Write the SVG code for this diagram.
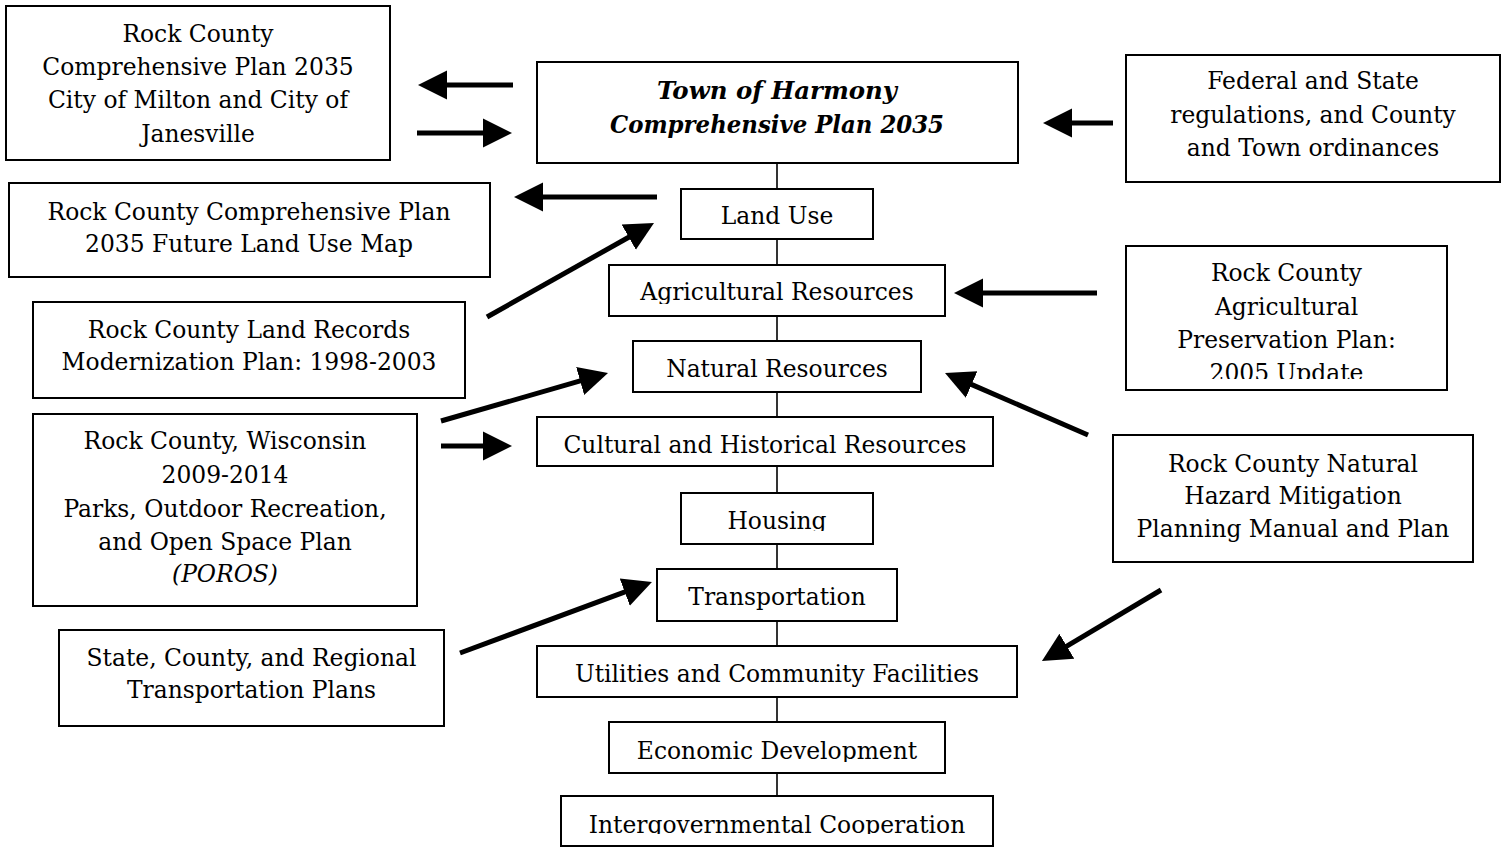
<svg xmlns="http://www.w3.org/2000/svg" width="1504" height="848" viewBox="0 0 1504 848">
<style>
  .box { fill: #fff; stroke: #000; stroke-width: 2; }
  .t { font-family: "DejaVu Serif", serif; font-size: 23.4px; fill: #000; text-anchor: middle; }
  .title { font-family: "DejaVu Serif", serif; font-size: 23.4px; font-weight: bold; font-style: italic; fill: #000; text-anchor: middle; }
  .it { font-style: italic; }
  .conn { stroke: #000; stroke-width: 1.6; fill: none; }
  .arr { stroke: #000; stroke-width: 5; fill: none; marker-end: url(#head); }
</style>
<defs>
  <marker id="head" markerUnits="userSpaceOnUse" markerWidth="34" markerHeight="34" viewBox="0 -17 34 34" refX="1" refY="0" orient="auto">
    <path d="M0,-14.5 L29,0 L0,14.5 Z" fill="#000"/>
  </marker>
  <clipPath id="c-agri"><rect x="609" y="265" width="336" height="39"/></clipPath>
  <clipPath id="c-pres"><rect x="1126" y="246" width="321" height="133"/></clipPath>
  <clipPath id="c-hous"><rect x="681" y="493" width="192" height="38"/></clipPath>
  <clipPath id="c-util"><rect x="537" y="646" width="480" height="47"/></clipPath>
  <clipPath id="c-econ"><rect x="609" y="722" width="336" height="40"/></clipPath>
  <clipPath id="c-intg"><rect x="561" y="796" width="432" height="38"/></clipPath>
</defs>
<rect width="1504" height="848" fill="#fff"/>

<g id="connectors">
  <line class="conn" x1="777" y1="163" x2="777" y2="799"/>
  <line class="arr" x1="513" y1="85" x2="446" y2="85"/>
  <line class="arr" x1="417" y1="133" x2="484" y2="133"/>
  <line class="arr" x1="1113" y1="123" x2="1071" y2="123"/>
  <line class="arr" x1="657" y1="197" x2="542" y2="197"/>
  <line class="arr" x1="487" y1="317" x2="629.6" y2="236.7"/>
  <line class="arr" x1="1097" y1="293" x2="982" y2="293"/>
  <line class="arr" x1="1088" y1="435" x2="970.7" y2="384.1"/>
  <line class="arr" x1="441" y1="421" x2="581.1" y2="380.7"/>
  <line class="arr" x1="441" y1="446" x2="484" y2="446"/>
  <line class="arr" x1="460" y1="653" x2="625.7" y2="591.7"/>
  <line class="arr" x1="1161" y1="590" x2="1066" y2="646.7"/>
</g>

<g id="n-milton">
  <rect class="box" x="6" y="6" width="384" height="154"/>
  <text class="t" x="198" y="42">Rock County</text>
  <text class="t" x="198" y="75">Comprehensive Plan 2035</text>
  <text class="t" x="198" y="108">City of Milton and City of</text>
  <text class="t" x="198" y="142">Janesville</text>
</g>
<g id="n-main">
  <rect class="box" x="537" y="62" width="481" height="101"/>
  <text class="title" x="777" y="99" textLength="240" lengthAdjust="spacingAndGlyphs">Town of Harmony</text>
  <text class="title" x="777" y="133" textLength="334" lengthAdjust="spacingAndGlyphs">Comprehensive Plan 2035</text>
</g>
<g id="n-federal">
  <rect class="box" x="1126" y="55" width="374" height="127"/>
  <text class="t" x="1313" y="89">Federal and State</text>
  <text class="t" x="1313" y="123">regulations, and County</text>
  <text class="t" x="1313" y="156">and Town ordinances</text>
</g>
<g id="n-futuremap">
  <rect class="box" x="9" y="183" width="481" height="94"/>
  <text class="t" x="249" y="220">Rock County Comprehensive Plan</text>
  <text class="t" x="249" y="252">2035 Future Land Use Map</text>
</g>
<g id="n-landuse">
  <rect class="box" x="681" y="189" width="192" height="50"/>
  <text class="t" x="777" y="224">Land Use</text>
</g>
<g id="n-agri">
  <rect class="box" x="609" y="265" width="336" height="51"/>
  <text class="t" x="777" y="300" clip-path="url(#c-agri)">Agricultural Resources</text>
</g>
<g id="n-agpres">
  <rect class="box" x="1126" y="246" width="321" height="144"/>
  <g clip-path="url(#c-pres)">
    <text class="t" x="1286.5" y="281">Rock County</text>
    <text class="t" x="1286.5" y="315">Agricultural</text>
    <text class="t" x="1286.5" y="348">Preservation Plan:</text>
    <text class="t" x="1286.5" y="381">2005 Update</text>
  </g>
</g>
<g id="n-landrecords">
  <rect class="box" x="33" y="302" width="432" height="96"/>
  <text class="t" x="249" y="338">Rock County Land Records</text>
  <text class="t" x="249" y="370">Modernization Plan: 1998-2003</text>
</g>
<g id="n-natural">
  <rect class="box" x="633" y="341" width="288" height="51"/>
  <text class="t" x="777" y="377">Natural Resources</text>
</g>
<g id="n-cultural">
  <rect class="box" x="537" y="417" width="456" height="49"/>
  <text class="t" x="765" y="453">Cultural and Historical Resources</text>
</g>
<g id="n-poros">
  <rect class="box" x="33" y="414" width="384" height="192"/>
  <text class="t" x="225" y="449">Rock County, Wisconsin</text>
  <text class="t" x="225" y="483">2009-2014</text>
  <text class="t" x="225" y="517">Parks, Outdoor Recreation,</text>
  <text class="t" x="225" y="550">and Open Space Plan</text>
  <text class="t it" x="225" y="582">(POROS)</text>
</g>
<g id="n-housing">
  <rect class="box" x="681" y="493" width="192" height="51"/>
  <text class="t" x="777" y="529" clip-path="url(#c-hous)">Housing</text>
</g>
<g id="n-hazard">
  <rect class="box" x="1113" y="435" width="360" height="127"/>
  <text class="t" x="1293" y="472">Rock County Natural</text>
  <text class="t" x="1293" y="504">Hazard Mitigation</text>
  <text class="t" x="1293" y="537">Planning Manual and Plan</text>
</g>
<g id="n-transport">
  <rect class="box" x="657" y="569" width="240" height="52"/>
  <text class="t" x="777" y="605">Transportation</text>
</g>
<g id="n-stateplans">
  <rect class="box" x="59" y="630" width="385" height="96"/>
  <text class="t" x="251.5" y="666">State, County, and Regional</text>
  <text class="t" x="251.5" y="698">Transportation Plans</text>
</g>
<g id="n-utilities">
  <rect class="box" x="537" y="646" width="480" height="51"/>
  <text class="t" x="777" y="682" clip-path="url(#c-util)">Utilities and Community Facilities</text>
</g>
<g id="n-economic">
  <rect class="box" x="609" y="722" width="336" height="51"/>
  <text class="t" x="777" y="759" clip-path="url(#c-econ)">Economic Development</text>
</g>
<g id="n-intergov">
  <rect class="box" x="561" y="796" width="432" height="50"/>
  <text class="t" x="777" y="833" clip-path="url(#c-intg)">Intergovernmental Cooperation</text>
</g>
</svg>
